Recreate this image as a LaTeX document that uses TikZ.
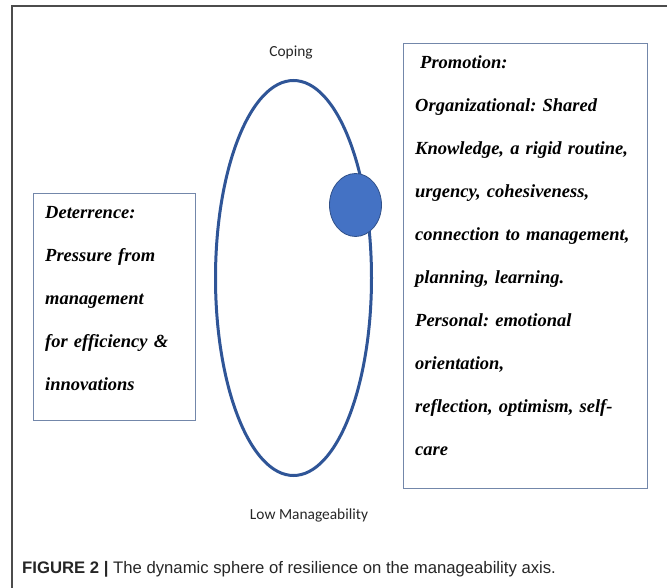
\documentclass[tikz,border=0pt]{standalone}
\usepackage{fontspec}
\setmainfont{Liberation Serif}
\newfontfamily\calib{Carlito}
\newfontfamily\capfont{Liberation Sans}
\usepackage{xcolor}
\usepackage{tikz}
\usetikzlibrary{positioning,shapes.geometric}
\definecolor{orb}{RGB}{47,85,151}
\definecolor{sph}{RGB}{68,114,196}
\definecolor{bord}{RGB}{115,135,170}
\frenchspacing

\begin{document}
\begin{tikzpicture}[x=1pt,y=-1pt,
  axlab/.style={font=\calib\fontsize{15.4}{18}\selectfont,text=black!85,inner sep=0pt},
  orbits/.style={draw=orb,line width=3pt,ellipse,inner sep=0pt,minimum width=156pt,minimum height=395pt},
  sphs/.style={draw=sph!70!black,line width=0.8pt,fill=sph,ellipse,inner sep=0pt,minimum width=52pt,minimum height=63pt},
  boxs/.style={draw=bord,line width=1.4pt,inner sep=0pt,anchor=north west},
  boxt/.style={anchor=base west,inner sep=0pt,align=left,font=\bfseries\itshape\fontsize{18.5}{43}\selectfont}]
  \useasboundingbox (0,0) rectangle (667,588);
  % page frame, open to the right and bottom
  \draw[line width=1.5pt,black!70] (12,600) -- (12,6) -- (680,6);

  % axis with the sphere on it
  \node[orbits] (orbit) at (293.5,278) {};
  \node[sphs] (sphere) at (355.5,205) {};
  \node[axlab] (coping) at (291,53) {Coping};
  \node[axlab] (lowman) at (309,515) {Low Manageability};

  % text boxes
  \node[boxs,minimum width=162pt,minimum height=227pt] (detbox) at (33,193) {};
  \node[boxt,text width=148pt,font=\bfseries\itshape\fontsize{18.5}{42.8}\selectfont] (det) at (45,219)
    {Deterrence:\\Pressure from\\management\\for efficiency \&\\innovations};
  \node[boxs,minimum width=244pt,minimum height=445pt] (probox) at (403,43) {};
  \node[boxt,text width=230pt] (pro) at (415,69)
    {\hspace*{5pt}Promotion:\\Organizational: Shared\\Knowledge, a rigid routine,\\urgency, cohesiveness,\\connection to management,\\planning, learning.\\Personal: emotional\\orientation,\\reflection, optimism, self-\\care};

  \node[anchor=base west,inner sep=0pt,font=\capfont\fontsize{16.7}{20}\selectfont,text=black!85] (caption) at (22,573)
    {\textbf{FIGURE 2 |} The dynamic sphere of resilience on the manageability axis.};
\end{tikzpicture}
\end{document}
